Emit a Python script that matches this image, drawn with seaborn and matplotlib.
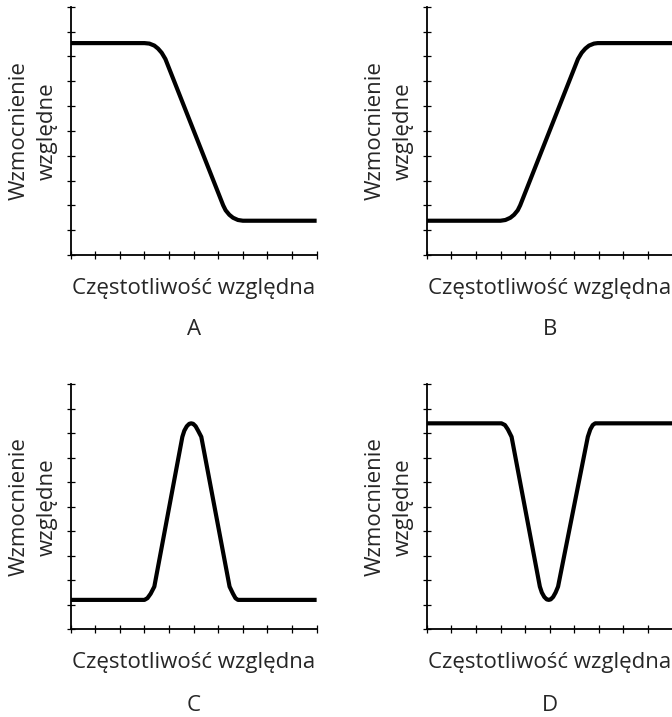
"""Cztery charakterystyki filtrów: dolno-, górno-, pasmowo-przepustowy i zaporowy."""

import matplotlib
matplotlib.use("Agg")
import matplotlib.pyplot as plt
import seaborn as sns

sns.set_style("ticks")
plt.rcParams["font.family"] = ["Open Sans", "DejaVu Sans"]

# punkty (x = częstotliwość, y = wzmocnienie), skala 0–10
a_x = [0, 3.0, 3.2, 3.4, 3.55, 3.7, 3.85, 6.2, 6.3, 6.45, 6.6, 6.8, 7.0, 10]
a_y = [8.54, 8.54, 8.52, 8.44, 8.32, 8.15, 7.9, 2.0, 1.8, 1.62, 1.5, 1.41, 1.38, 1.38]

b_x = [0, 3.0, 3.2, 3.4, 3.55, 3.7, 3.8, 6.15, 6.3, 6.45, 6.6, 6.8, 6.95, 10]
b_y = [1.38, 1.38, 1.41, 1.5, 1.62, 1.8, 2.0, 7.9, 8.15, 8.32, 8.44, 8.52, 8.54, 8.54]

c_x = [0, 3.0, 3.12, 3.25, 3.4, 4.54, 4.62, 4.72, 4.82, 4.9, 4.98, 5.08, 5.18, 5.31,
       6.46, 6.6, 6.7, 6.8, 10]
c_y = [1.2, 1.2, 1.27, 1.45, 1.74, 7.85, 8.1, 8.28, 8.38, 8.4, 8.38, 8.28, 8.1, 7.85,
       1.74, 1.45, 1.27, 1.2, 1.2]

d_x = [0, 3.04, 3.18, 3.3, 3.45, 4.6, 4.68, 4.78, 4.88, 4.96, 5.04, 5.14, 5.24, 5.34,
       6.55, 6.65, 6.75, 6.85, 10]
d_y = [8.4, 8.4, 8.33, 8.15, 7.85, 1.74, 1.5, 1.32, 1.22, 1.2, 1.22, 1.32, 1.5, 1.74,
       7.85, 8.15, 8.33, 8.4, 8.4]

PANELS = [
    ("A", a_x, a_y, [0.1052, 0.6444, 0.366, 0.346], -0.30),
    ("B", b_x, b_y, [0.635, 0.6444, 0.366, 0.346], -0.30),
    ("C", c_x, c_y, [0.1052, 0.1223, 0.366, 0.342], -0.31),
    ("D", d_x, d_y, [0.635, 0.1223, 0.366, 0.342], -0.31),
]

YLABEL = "Wzmocnienie\nwzględne"
XLABEL = "Częstotliwość względna"
FS = 16

fig = plt.figure(figsize=(6.72, 7.17), dpi=100)

for letter, xs, ys, rect, ly in PANELS:
    ax = fig.add_axes(rect)
    sns.lineplot(x=xs, y=ys, ax=ax, color="black", linewidth=3.0, sort=False,
                 solid_joinstyle="round", solid_capstyle="butt")
    ax.set_xlim(0, 10)
    ax.set_ylim(0, 10)
    ax.set_xticks(range(11))
    ax.set_yticks(range(11))
    ax.set_xticklabels([])
    ax.set_yticklabels([])
    ax.tick_params(direction="inout", length=6, width=0.9, color="black")
    for side in ("top", "right"):
        ax.spines[side].set_visible(False)
    for side in ("left", "bottom"):
        ax.spines[side].set_linewidth(1.3)
        ax.spines[side].set_color("black")
    ax.set_ylabel(YLABEL, fontsize=FS, labelpad=3, linespacing=1.45)
    ax.set_xlabel(XLABEL, fontsize=FS, labelpad=10)
    ax.text(0.5, ly, letter, transform=ax.transAxes, ha="center",
            va="center", fontsize=FS)

fig.savefig("out.png", dpi=100)
